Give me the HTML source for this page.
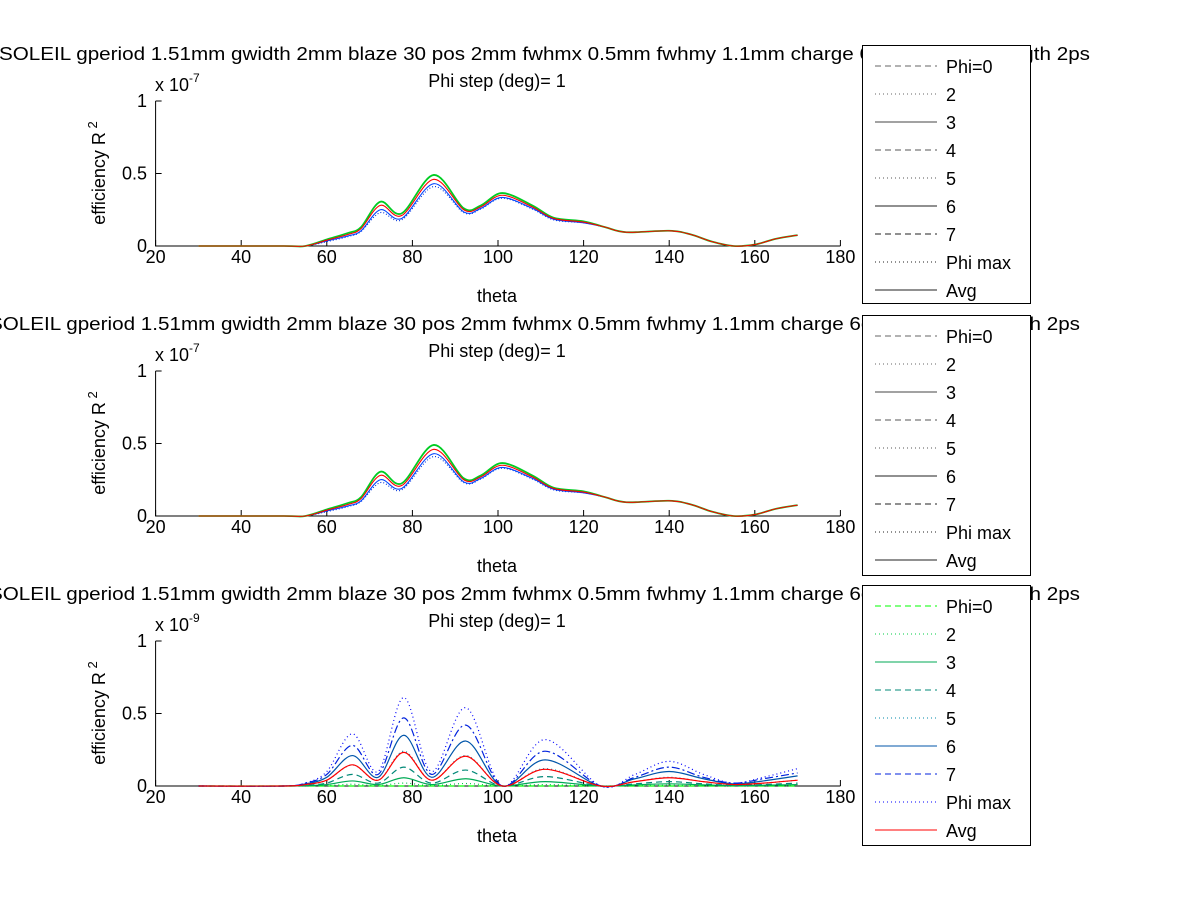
<!DOCTYPE html>
<html><head><meta charset="utf-8"><style>
body{margin:0;background:#fff}
svg{display:block;font-family:"Liberation Sans",sans-serif}
</style></head><body>
<svg id="fig" width="1200" height="901" viewBox="0 0 1200 901" xmlns="http://www.w3.org/2000/svg">
<rect width="1200" height="901" fill="#fff"/>
</svg>
<script>
const thetaTop = [30,50,55,60,65,68,72.5,77.5,85,92,96,101,108,113,120,125,130,140,145,150,155,160,165,170];
const topGreen = [0,0,0,0.045,0.09,0.13,0.305,0.225,0.49,0.26,0.28,0.365,0.28,0.195,0.17,0.13,0.095,0.105,0.08,0.03,0,0.01,0.05,0.075];
const topBlue = [0,0,0,0.035,0.07,0.105,0.25,0.19,0.43,0.235,0.26,0.335,0.26,0.185,0.16,0.13,0.095,0.105,0.08,0.03,0,0.01,0.05,0.075];
const topBlue2 = [0,0,0,0.03,0.065,0.1,0.23,0.18,0.41,0.23,0.255,0.33,0.255,0.18,0.16,0.13,0.095,0.105,0.08,0.03,0,0.01,0.05,0.075];
const topAvg = [0,0,0,0.04,0.08,0.12,0.28,0.21,0.46,0.25,0.27,0.35,0.27,0.19,0.165,0.13,0.095,0.105,0.08,0.03,0,0.01,0.05,0.075];

const thetaBot = [30,50,55,60,66,72,78,84.5,92.5,101,111,124,132,140,148,155,162,170];
const botPhi0 = [0,0,0,0,0,0,0,0,0,0,0,0,0,0,0,0,0,0];
const bot2 = [0,0,0,0.003,0.012,0.003,0.02,0.003,0.017,0,0.01,0,0.003,0.005,0.003,0,0.002,0.003];
const bot3 = [0,0,0.003,0.01,0.035,0.01,0.057,0.01,0.05,0,0.03,0,0.008,0.015,0.008,0.003,0.005,0.01];
const bot4 = [0,0,0.005,0.02,0.08,0.02,0.13,0.02,0.11,0,0.065,0,0.015,0.03,0.015,0.005,0.01,0.02];
const bot5 = [0,0,0.01,0.04,0.145,0.04,0.24,0.04,0.21,0,0.12,0,0.03,0.06,0.03,0.01,0.02,0.04];
const bot6 = [0,0,0.015,0.06,0.21,0.06,0.35,0.06,0.31,0,0.18,0,0.05,0.1,0.05,0.015,0.035,0.07];
const bot7 = [0,0,0.02,0.08,0.28,0.08,0.47,0.08,0.42,0,0.24,0,0.06,0.13,0.06,0.02,0.05,0.09];
const botMax = [0,0,0.02,0.1,0.36,0.1,0.61,0.1,0.54,0,0.32,0,0.08,0.17,0.08,0.02,0.06,0.12];
const botAvg = [0,0,0.01,0.04,0.146,0.04,0.232,0.04,0.205,0,0.115,0,0.03,0.057,0.03,0.01,0.02,0.04];

const xTicks = [20,40,60,80,100,120,140,160,180];
const yTicks = [0,0.5,1];
const yTickLabels = ["0","0.5","1"];
const legendLabels = ["Phi=0","2","3","4","5","6","7","Phi max","Avg"];

const NS="http://www.w3.org/2000/svg";
const svg=document.getElementById('fig');
function mk(tag,attrs,parent){const e=document.createElementNS(NS,tag);for(const k in attrs)e.setAttribute(k,attrs[k]);(parent||svg).appendChild(e);return e;}
const X0=155.6, XS=4.28, H=145;
function xs(t){return X0+(t-20)*XS;}
function path(xsArr,ys,bottom){
  const p=xsArr.map((t,i)=>[xs(t),bottom-ys[i]*H]);
  let d='M'+p[0][0]+','+p[0][1];
  for(let i=0;i<p.length-1;i++){
    const p0=p[Math.max(0,i-1)],p1=p[i],p2=p[i+1],p3=p[Math.min(p.length-1,i+2)];
    const c1=[p1[0]+(p2[0]-p0[0])/6,p1[1]+(p2[1]-p0[1])/6];
    const c2=[p2[0]-(p3[0]-p1[0])/6,p2[1]-(p3[1]-p1[1])/6];
    d+=' C'+c1[0]+','+c1[1]+' '+c2[0]+','+c2[1]+' '+p2[0]+','+p2[1];
  }
  return d;
}
const titleY=[60,330,600];
const bottoms=[246,516,786];
const expo=["-7","-7","-9"];
const legTop=[45,315,585];
const grayStyles=[["#666","6,4"],["#666","1,3"],["#444",""],["#555","6,4"],["#555","1,3"],["#222",""],["#222","6,4"],["#222","1,3"],["#222",""]];
const colStyles=[["#00ff00","6,4"],["#00cc44","1,3"],["#00aa55",""],["#008877","6,4"],["#0088aa","1,3"],["#0055aa",""],["#0022dd","6,4"],["#0000ff","1,3"],["#ff0000",""]];

for(let k=0;k<3;k++){
  const B=bottoms[k];
  const g=mk('g',{});
  
  
  const t=mk('text',{x:k==0?-1:-11,y:titleY[k],'font-size':18,textLength:1091,lengthAdjust:'spacingAndGlyphs'},g);
  t.textContent="SOLEIL gperiod 1.51mm gwidth 2mm blaze 30 pos 2mm fwhmx 0.5mm fwhmy 1.1mm charge 6e-10C bunch length 2ps";
  
  
  const t2=mk('text',{x:497,y:titleY[k]+27,'font-size':18,'text-anchor':'middle'},g);
  t2.textContent="Phi step (deg)= 1";
  
  
  const ax=mk('path',{d:`M${xs(20)},${B-H} V${B} H${xs(180)}`,stroke:'#000','stroke-width':1,fill:'none'},g);
  
  
  xTicks.forEach(v=>{
    const tk=mk('line',{x1:xs(v),x2:xs(v),y1:B,y2:B-6,stroke:'#000'},g);
    
    
    const tl=mk('text',{x:xs(v),y:B+17,'font-size':18,'text-anchor':'middle'},g);
    tl.textContent=String(v);
    
    
  });
  yTicks.forEach((v,i)=>{
    const y=B-v*H;
    const tk=mk('line',{x1:xs(20),x2:xs(20)+6,y1:y,y2:y,stroke:'#000'},g);
    
    
    const tl=mk('text',{x:147,y:y+6,'font-size':18,'text-anchor':'end'},g);
    tl.textContent=yTickLabels[i];
    
    
  });
  const ex=mk('text',{x:155,y:B-155,'font-size':18},g);
  ex.innerHTML='x 10<tspan dy="-9" font-size="12">'+expo[k]+'</tspan>';
  
  
  const yt=mk('text',{x:0,y:0,'font-size':18,'text-anchor':'middle',transform:`translate(105,${B-73}) rotate(-90)`},g);
  yt.innerHTML='efficiency R<tspan dy="-8" font-size="13"> 2</tspan>';
  
  
  const xt=mk('text',{x:497,y:B+56,'font-size':18,'text-anchor':'middle'},g);
  xt.textContent='theta';
  
  
  if(k<2){
    [[topBlue2,'#0033dd','1,2'],[topBlue,'#0044ff',''],[topGreen,'#00cc22',''],[topAvg,'#ff0000','']].forEach(s=>{
      const pe=mk('path',{d:path(thetaTop,s[0],B),stroke:s[1],'stroke-width':s[1]=='#00cc22'?1.8:1.1,'stroke-dasharray':s[2],fill:'none'},g);
      
      
    });
  } else {
    const ser=[botPhi0,bot2,bot3,bot4,bot5,bot6,bot7,botMax,botAvg];
    ser.forEach((s,i)=>{
      const pe=mk('path',{d:path(thetaBot,s,B),stroke:colStyles[i][0],'stroke-width':1.2,'stroke-dasharray':i==6?'8,3,2,3':colStyles[i][1],fill:'none'},g);
      
      
    });
  }
  const L=legTop[k];
  const lg=mk('g',{},g);
  
  
  mk('rect',{x:862.5,y:L+0.5,width:168,height:k==0?258:260,fill:'#fff',stroke:'#000'},lg);
  legendLabels.forEach((lab,i)=>{
    const y=L+21+i*28;
    const st=k<2?grayStyles[i]:colStyles[i];
    const ln=mk('line',{x1:875,x2:937,y1:y,y2:y,stroke:st[0],'stroke-dasharray':st[1]},lg);
    
    
    const tx=mk('text',{x:946,y:y+7,'font-size':18},lg);
    tx.textContent=lab;
    
    
  });
}
</script>
</body></html>
